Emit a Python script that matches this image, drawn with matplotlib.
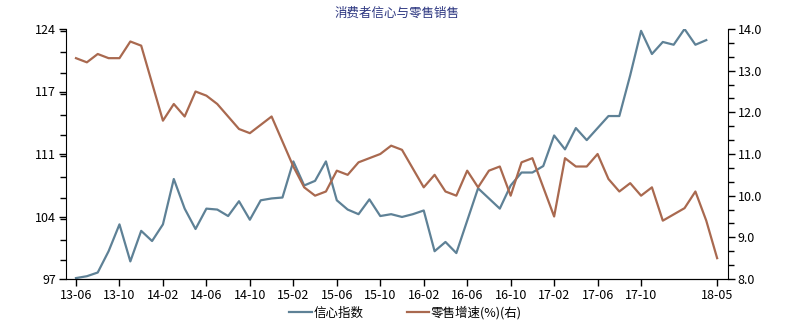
import matplotlib.pyplot as plt
from matplotlib.ticker import FixedLocator, MultipleLocator

plt.rcParams['font.family'] = ['Noto Sans CJK SC', 'DejaVu Sans']

# 消费者信心指数, monthly 13-06 .. 18-04
conf_months = (
    ["13-%02d" % m for m in range(6, 13)]
    + ["%d-%02d" % (y, m) for y in (14, 15, 16, 17) for m in range(1, 13)]
    + ["18-%02d" % m for m in range(1, 5)]
)
conf_values = [
    97.1, 97.3, 97.7, 100.0, 102.9, 98.9, 102.2,
    101.1, 102.9, 107.8, 104.6, 102.4, 104.6, 104.5, 103.8, 105.4, 103.4, 105.5, 105.7,
    105.8, 109.7, 107.1, 107.6, 109.7, 105.5, 104.5, 104.0, 105.6, 103.8, 104.0, 103.7,
    104.0, 104.4, 100.0, 101.0, 99.8, 103.3, 106.8, 105.7, 104.6, 107.1, 108.5, 108.5,
    109.2, 112.5, 111.0, 113.3, 112.0, 113.3, 114.6, 114.6, 119.0, 123.8, 121.3, 122.6,
    122.3, 124.0, 122.3, 122.8,
]

# 零售增速(%), January merged into February
retail_months = (
    ["13-%02d" % m for m in range(6, 13)]
    + ["%d-%02d" % (y, m) for y in (14, 15, 16, 17) for m in range(2, 13)]
    + ["18-%02d" % m for m in range(2, 6)]
)
retail_values = [
    13.3, 13.2, 13.4, 13.3, 13.3, 13.7, 13.6,
    11.8, 12.2, 11.9, 12.5, 12.4, 12.2, 11.9, 11.6, 11.5, 11.7, 11.9,
    10.7, 10.2, 10.0, 10.1, 10.6, 10.5, 10.8, 10.9, 11.0, 11.2, 11.1,
    10.2, 10.5, 10.1, 10.0, 10.6, 10.2, 10.6, 10.7, 10.0, 10.8, 10.9,
    9.5, 10.9, 10.7, 10.7, 11.0, 10.4, 10.1, 10.3, 10.0, 10.2, 9.4,
    9.7, 10.1, 9.4, 8.5,
]

tick_labels = ["13-06", "13-10", "14-02", "14-06", "14-10", "15-02", "15-06",
               "15-10", "16-02", "16-06", "16-10", "17-02", "17-06", "17-10", "18-05"]
left_ticks = [97, 103.75, 110.5, 117.25, 124]
right_ticks = [8.0, 9.0, 10.0, 11.0, 12.0, 13.0, 14.0]


def month_index(label):
    yy, mm = label.split("-")
    return (int(yy) - 13) * 12 + int(mm) - 6


blue = "#5e8196"
brown = "#a9694f"

fig = plt.figure(figsize=(8.11, 3.33), dpi=100)
ax = fig.add_axes([66 / 811, 1 - 279 / 333, (728 - 66) / 811, (279 - 29) / 333])
ax2 = ax.twinx()

l1, = ax.plot([month_index(m) for m in conf_months], conf_values,
              color=blue, lw=1.6, label="信心指数")
l2, = ax2.plot([month_index(m) for m in retail_months], retail_values,
               color=brown, lw=1.6, label="零售增速(%)(右)")

ax.set_xlim(-0.92, 60.0)
ax.set_ylim(97, 124)
ax2.set_ylim(8, 14)

ax.set_xticks([month_index(t) for t in tick_labels])
ax.set_xticklabels(tick_labels, fontsize=9)
ax.yaxis.set_major_locator(FixedLocator(left_ticks))
ax.set_yticklabels([f"{v:.0f}" for v in [97, 104, 111, 117, 124]], fontsize=9)
ax.yaxis.set_minor_locator(MultipleLocator(2.25))
ax2.yaxis.set_major_locator(FixedLocator(right_ticks))
ax2.set_yticklabels([f"{v:.1f}" for v in right_ticks], fontsize=9)
ax2.yaxis.set_minor_locator(MultipleLocator(1 / 3))

for a in (ax, ax2):
    a.spines["top"].set_visible(False)
    a.tick_params(which="major", length=5, width=1, pad=2, colors="black")
    a.tick_params(which="minor", length=4, width=1)
ax2.spines["left"].set_visible(False)
ax.spines["right"].set_visible(False)

ax.set_title("消费者信心与零售销售", fontsize=9, color="#2b3580", pad=9)

fig.legend(handles=[l1, l2], loc="center", bbox_to_anchor=(0.5, 1 - 313 / 333),
           ncol=2, frameon=False, fontsize=9, handlelength=1.8,
           handletextpad=0.1, columnspacing=3.5)

fig.savefig("out.png", dpi=100)
